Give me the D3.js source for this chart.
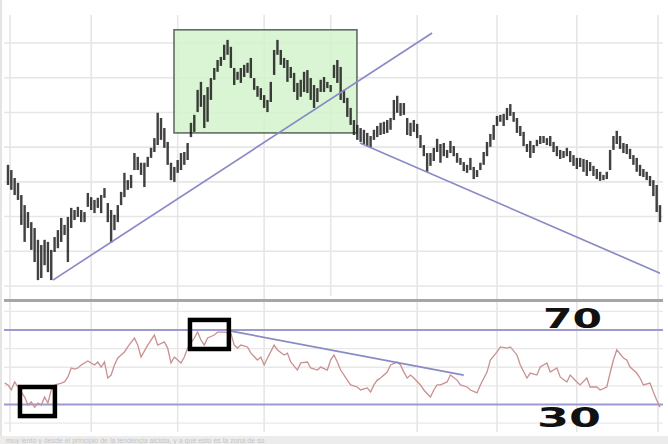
<!DOCTYPE html>
<html><head><meta charset="utf-8">
<script src="https://cdn.jsdelivr.net/npm/d3@7"></script>
<style>html,body{margin:0;padding:0;background:#fff;overflow:hidden}svg{display:block}</style>
</head><body>
<script>
// ---------- DATA ----------
const highs = [44.9,43.4,41.1,39.7,36.2,33.3,31.3,28.4,26.7,23.3,
21.8,23.3,22.7,20.4,24.1,26.1,29.6,27.6,29.9,32.5,
31.9,32.8,31.9,31.3,36.8,35.6,34.8,35.4,36.2,38.2,
33.9,31.9,30.5,33.3,37.1,42.6,40.5,42.0,48.3,47.2,
45.5,45.5,47.2,49.8,52.6,59.9,58.4,55.5,51.5,45.5,
44.3,46.3,48.3,48.6,51.2,57.0,59.3,66.5,68.8,65.0,
67.3,69.9,72.8,75.1,76.0,79.5,80.9,78.9,72.8,71.7,
72.8,73.7,74.3,75.7,69.9,67.6,67.0,65.0,63.6,68.8,
78.0,80.9,78.0,75.7,75.1,73.1,71.4,68.5,69.4,71.7,
72.2,69.9,67.9,67.0,69.4,70.2,68.8,67.9,73.7,75.1,
73.1,66.5,64.2,61.3,57.8,56.4,55.5,55.0,54.1,53.2,
55.0,56.1,57.0,57.3,57.8,58.4,63.6,64.8,62.7,62.7,
58.4,57.0,57.8,56.7,53.5,50.6,48.3,48.3,49.8,52.4,
50.9,51.2,49.2,51.8,50.3,48.3,46.9,45.7,44.9,46.9,
44.3,43.4,45.5,48.6,51.5,53.8,56.4,59.0,59.3,59.6,
61.3,62.4,60.1,58.4,56.1,54.4,50.9,51.8,50.6,52.1,
53.2,53.2,52.6,53.2,51.5,50.3,49.2,48.9,49.8,48.9,
47.7,46.9,46.9,46.6,46.3,45.7,44.6,43.7,42.9,42.0,
42.9,49.2,53.2,54.7,53.2,51.2,50.9,49.5,47.7,46.9,
44.9,43.7,42.9,41.7,40.5,39.1,33.3];
const lows = [39.1,37.7,36.2,34.8,27.6,22.7,26.7,20.4,16.9,11.7,
12.3,16.0,14.0,11.7,19.8,20.9,22.7,24.7,16.9,26.7,
29.0,29.9,28.4,28.4,32.8,31.9,31.0,32.5,31.0,35.4,
28.4,22.4,26.1,28.4,33.3,35.6,37.7,38.2,43.4,43.4,
42.0,38.5,44.3,46.9,48.6,50.6,52.1,49.8,44.9,40.5,
40.0,42.6,43.4,44.9,46.3,52.9,54.4,60.1,61.6,55.5,
57.3,63.6,69.4,71.7,73.4,75.1,76.6,72.8,67.9,69.4,
68.5,70.2,71.4,69.9,66.5,64.5,63.6,61.3,60.1,63.0,
70.8,76.6,73.7,72.8,68.8,69.9,65.9,63.6,64.5,65.9,
65.6,63.6,61.3,63.0,65.9,65.9,67.0,65.9,69.9,68.5,
63.6,62.7,58.7,56.4,53.5,52.1,51.5,50.9,50.3,49.8,
52.1,52.9,53.5,53.8,54.1,55.0,57.8,59.9,59.0,59.3,
53.5,53.2,54.4,52.6,49.8,47.4,42.9,44.6,46.0,48.6,
45.5,47.4,46.9,48.3,47.4,45.5,44.9,43.1,42.6,43.4,
40.8,41.4,43.4,44.9,47.4,50.1,52.1,56.1,57.3,56.1,
57.8,59.0,57.3,54.1,53.2,50.3,48.6,46.9,48.3,50.3,
50.9,51.2,50.6,50.3,48.6,47.4,46.6,46.9,47.4,45.7,
44.6,43.7,44.3,42.9,41.7,43.1,41.7,40.8,40.3,40.5,
40.8,43.4,49.2,50.9,49.5,48.3,48.0,46.6,44.9,42.9,
41.7,41.4,40.5,38.8,35.9,31.3,28.4];

const rsiDays = [-1,0,1,2,3,4,5,6,7,8,9,10,11,12,13,14,15,16,17,18,19,20,21,22,24,25,26,27,28,29,
30,31,32,33,34,35,36,38,39,40,42,44,45,47,48,49,50,51,52,53,54,56,57,58,59,60,62,63,65,67,
68,69,70,72,73,75,76,77,78,80,81,83,84,85,87,88,90,91,93,94,96,97,98,99,100,102,103,105,106,108,
109,110,111,112,114,115,117,118,119,120,121,122,124,125,127,128,129,130,132,133,135,136,138,139,141,142,
144,145,147,148,150,151,153,154,156,157,159,160,162,163,165,166,168,169,171,172,174,175,177,178,
180,181,182,183,185,186,187,189,190,191,193,194,195,196];
const rsiValues = [41.5,40.5,37.8,42.1,39.4,36.7,34.0,29.7,31.3,28.6,30.8,29.7,34.0,30.8,37.8,40.5,41.0,41.5,42.1,44.8,49.6,49.0,49.6,51.2,53.4,52.3,51.2,52.8,50.1,52.8,
44.2,45.8,51.2,55.0,56.6,58.2,60.9,65.7,61.9,55.5,61.9,67.3,61.9,63.6,60.3,52.3,55.5,53.9,52.3,55.5,60.3,65.7,68.9,64.6,61.9,65.7,67.3,68.9,68.9,68.4,
61.9,60.3,61.9,60.9,57.6,53.9,55.5,51.2,55.0,61.9,59.3,56.6,57.6,52.8,48.5,52.3,52.8,49.6,48.5,50.1,48.5,54.0,56.6,52.8,48.5,43.1,40.5,39.4,37.8,38.9,
36.7,40.5,43.1,44.2,47.4,51.2,52.8,51.2,47.4,44.2,45.8,44.2,40.5,37.8,34.0,37.8,40.5,40.5,42.1,45.8,43.1,40.5,39.4,37.8,36.2,40.5,
47.4,53.9,58.2,60.9,60.3,60.9,56.6,51.2,44.2,46.9,45.8,50.1,52.3,47.4,49.6,44.8,42.1,45.8,42.1,40.5,44.2,39.4,39.4,37.8,
39.4,46.9,53.9,59.3,55.0,53.9,50.1,46.9,44.2,40.5,41.5,36.7,32.4,28.6];

const priceGrid = [10,20,30,40,50,60,70,80];
const rsiGrid = [20,40,50,60,80];
const rsiLevels = [70,30];
const rsiLevelLabels = ["70","30"];
const gridDays = [0.6,25,51,77,97,123,147,171,195.4];
const upTrendDays = [13.5,127.5],  upTrendPrices = [11.7,82.9];
const downTrendDays = [105.8,196], downTrendPrices = [51.2,13.7];
const boxDays = [49.9,104.9], boxPrices = [54.1,83.8];
const rsiTrendDays = [66.7,137], rsiTrendValues = [69.5,45.8];
const markBoxes = [{days:[3.6,14.1], rsi:[23.8,39.4]},{days:[54.7,66.4], rsi:[59.8,75.4]}];
const caption = "muy lento y desde el principio de la tendencia alcista, y a que esto es la zona de so";

// ---------- CHART ----------
const W = 668, H = 444;
const svg = d3.select("body").append("svg").attr("width", W).attr("height", H);
const defs = svg.append("defs");
defs.append("filter").attr("id","soft").append("feGaussianBlur").attr("stdDeviation",0.45);

const x = d3.scaleLinear().domain([0,196]).range([8,660]);
const yP = d3.scaleLinear().domain([10,80]).range([286,43]);
const yR = d3.scaleLinear().domain([30,70]).range([404.5,330]);
const left = 4, right = 663;

svg.append("rect").attr("width",W).attr("height",H).attr("fill","#fff");

const g = svg.append("g").attr("filter","url(#soft)");

// grid
g.selectAll(".vg").data(gridDays).join("line")
  .attr("x1",d=>x(d)).attr("x2",d=>x(d)).attr("y1",15).attr("y2",d=>d===97?296:432)
  .attr("stroke","#e6e6e6").attr("stroke-width",1.6);
g.selectAll(".hg").data(priceGrid).join("line")
  .attr("x1",left).attr("x2",right).attr("y1",d=>yP(d)).attr("y2",d=>yP(d))
  .attr("stroke","#e6e6e6").attr("stroke-width",1.6);
g.selectAll(".rg").data(rsiGrid).join("line")
  .attr("x1",left).attr("x2",right).attr("y1",d=>yR(d)).attr("y2",d=>yR(d))
  .attr("stroke","#e8e8e8").attr("stroke-width",1.4);

// green box
g.append("rect")
  .attr("x",x(boxDays[0])).attr("y",yP(boxPrices[1]))
  .attr("width",x(boxDays[1])-x(boxDays[0])).attr("height",yP(boxPrices[0])-yP(boxPrices[1]))
  .attr("fill","#d3f3cc").attr("fill-opacity",0.85).attr("stroke","#5f705f").attr("stroke-width",1.6);

// OHLC bars (high-low)
g.selectAll(".bar").data(highs).join("line")
  .attr("x1",(d,i)=>x(i)).attr("x2",(d,i)=>x(i))
  .attr("y1",d=>yP(d)).attr("y2",(d,i)=>yP(lows[i]))
  .attr("stroke","#1c1c1c").attr("stroke-width",2.4).attr("stroke-opacity",0.85);

// trend lines in price panel
const trend = (days, vals, ys) => g.append("line")
  .attr("x1",x(days[0])).attr("x2",x(days[1]))
  .attr("y1",ys(vals[0])).attr("y2",ys(vals[1]))
  .attr("stroke","#8a8ac6").attr("stroke-width",1.7);
trend(upTrendDays, upTrendPrices, yP);
trend(downTrendDays, downTrendPrices, yP);

// separator
g.append("line").attr("x1",left).attr("x2",right).attr("y1",300.5).attr("y2",300.5)
  .attr("stroke","#a6a6a6").attr("stroke-width",3);

// RSI levels
g.selectAll(".lvl").data(rsiLevels).join("line")
  .attr("x1",left).attr("x2",right).attr("y1",d=>yR(d)).attr("y2",d=>yR(d))
  .attr("stroke","#9b9bd0").attr("stroke-width",2);

// RSI line
const rsiPts = rsiDays.map((d,i)=>[d, rsiValues[i]]);
g.append("path").datum(rsiPts)
  .attr("d", d3.line().x(d=>x(d[0])).y(d=>yR(d[1])))
  .attr("fill","none").attr("stroke","#c99090").attr("stroke-width",1.3);

// RSI trend
trend(rsiTrendDays, rsiTrendValues, yR);

// black marker boxes
g.selectAll(".mb").data(markBoxes).join("rect")
  .attr("x",d=>x(d.days[0])).attr("y",d=>yR(d.rsi[1]))
  .attr("width",d=>x(d.days[1])-x(d.days[0])).attr("height",d=>yR(d.rsi[0])-yR(d.rsi[1]))
  .attr("fill","none").attr("stroke","#000").attr("stroke-width",4.5);

// level labels
svg.selectAll(".lbl").data(rsiLevels).join("text")
  .attr("x",(d,i)=> i===0?543:537)
  .attr("y",(d,i)=> i===0?328:427)
  .attr("font-family","'DejaVu Sans', sans-serif").attr("font-weight","bold")
  .attr("font-size",27).attr("fill","#111")
  .attr("textLength",(d,i)=> i===0?59:64).attr("lengthAdjust","spacingAndGlyphs")
  .text((d,i)=>rsiLevelLabels[i]);

// bottom strip with caption
svg.append("rect").attr("x",0).attr("y",436).attr("width",W).attr("height",8).attr("fill","#ececec");
svg.append("text").attr("x",6).attr("y",442.5).attr("font-family","Arial, 'Liberation Sans', sans-serif")
  .attr("font-size",7).attr("fill","#c4c4c4").text(caption);
// left border
svg.append("line").attr("x1",1).attr("x2",1).attr("y1",0).attr("y2",436).attr("stroke","#e4e4e4").attr("stroke-width",2);
</script>
</body></html>
